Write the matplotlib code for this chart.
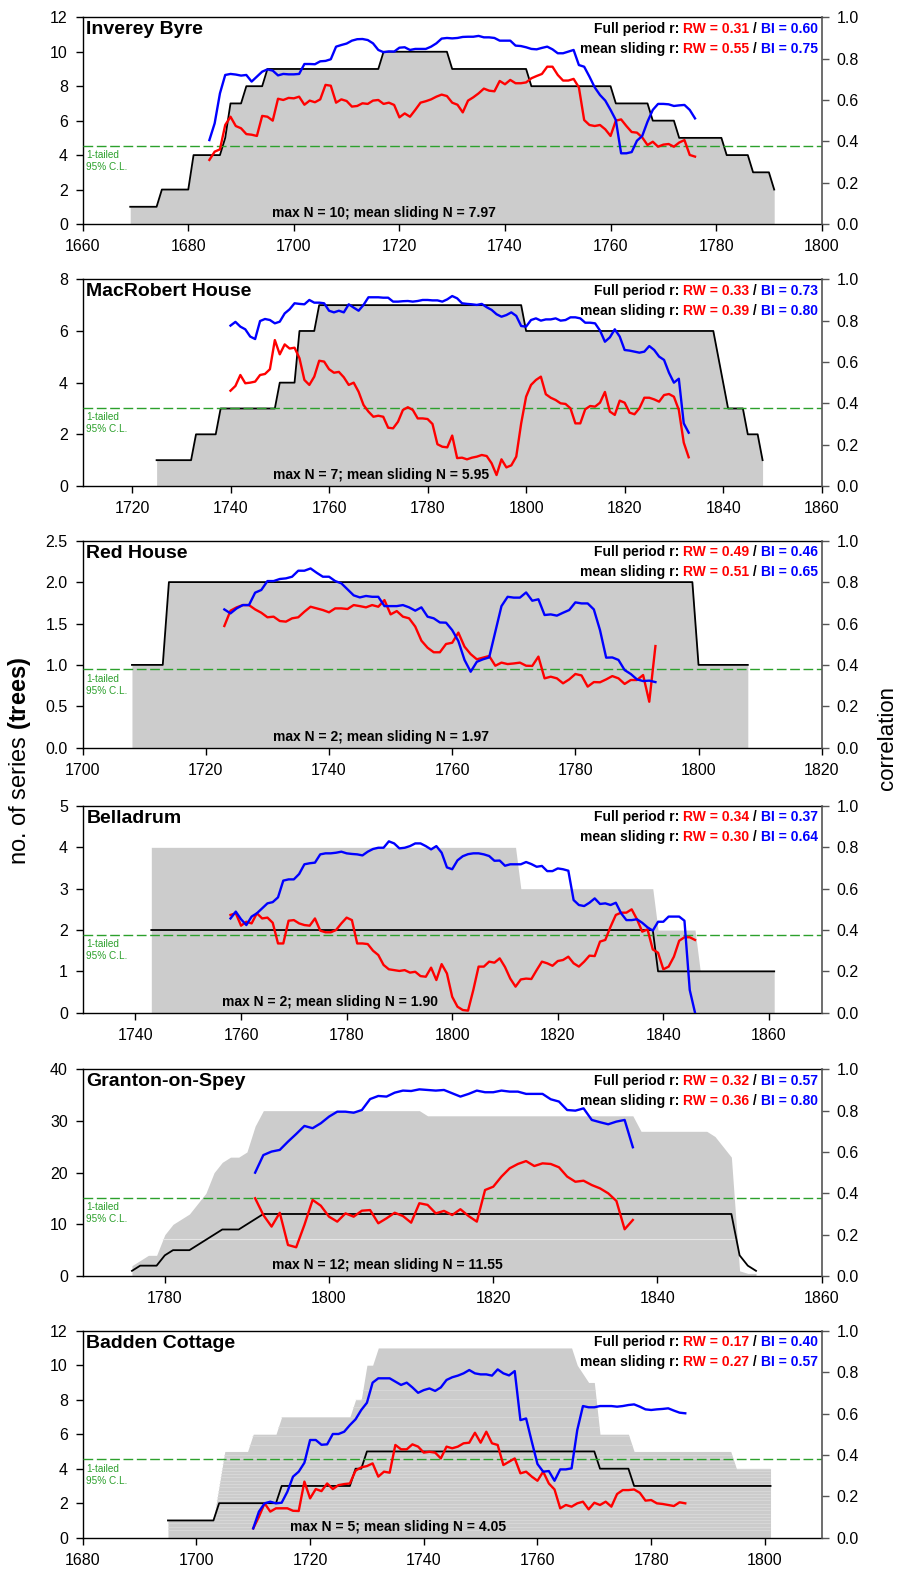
import numpy as np
import matplotlib
matplotlib.use('Agg')
import matplotlib.pyplot as plt

plt.rcParams['font.family'] = ['Liberation Sans', 'DejaVu Sans']
plt.rcParams['mathtext.fontset'] = 'custom'
plt.rcParams['mathtext.rm'] = 'Liberation Sans'
plt.rcParams['mathtext.bf'] = 'Liberation Sans:bold'

# ---------------- DATA ----------------
site_names = ["Inverey Byre", "MacRobert House", "Red House", "Belladrum",
              "Granton-on-Spey", "Badden Cottage"]

# number of trees (black line) - vertices (year, N)
inv_n_years = [1669, 1674, 1675, 1680, 1681, 1686, 1687, 1688, 1690, 1691, 1694, 1695, 1716, 1717, 1729,
               1730, 1744, 1745, 1760, 1761, 1767, 1768, 1772, 1773, 1781, 1782, 1786, 1787, 1790, 1791]
inv_n = [1, 1, 2, 2, 4, 4, 5, 7, 7, 8, 8, 9, 9, 10, 10, 9, 9, 8, 8, 7, 7, 6, 6, 5, 5, 4, 4, 3, 3, 2]

mac_n_years = [1725, 1732, 1733, 1737, 1738, 1749, 1750, 1753, 1754, 1757, 1758, 1799, 1800, 1838,
               1841, 1844, 1845, 1847, 1848]
mac_n = [1, 1, 2, 2, 3, 3, 4, 4, 6, 6, 7, 7, 6, 6, 3, 3, 2, 2, 1]

red_n_years = [1708, 1713, 1714, 1799, 1800, 1808]
red_n = [1, 1, 2, 2, 1, 1]

bel_n_years = [1743, 1838, 1839, 1861]
bel_n = [2, 2, 1, 1]
bel_g_years = [1743, 1812, 1813, 1838, 1839, 1846, 1847, 1861]
bel_g = [4, 4, 3, 3, 2, 2, 1, 1]

gra_n_years = [1776, 1777, 1779, 1780, 1781, 1783, 1784, 1785, 1786, 1787, 1789, 1790, 1791, 1792,
               1849, 1850, 1851, 1852]
gra_n = [1, 2, 2, 4, 5, 5, 6, 7, 8, 9, 9, 10, 11, 12, 12, 4, 2, 1]
gra_g_years = [1776, 1777, 1778, 1779, 1780, 1781, 1782, 1783, 1784, 1785, 1786, 1787, 1788, 1789,
               1790, 1791, 1792, 1811, 1812, 1837, 1838, 1846, 1847, 1848, 1849, 1850, 1851, 1852]
gra_g = [2, 3, 4, 4, 8, 10, 11, 12, 14, 16, 20, 22, 23, 23, 24, 29, 32, 32, 31, 31, 28, 28, 27, 25,
         23, 1, 0.5, 0.5]

bad_n_years = [1695, 1703, 1704, 1714, 1715, 1727, 1728, 1729, 1730, 1770, 1771, 1776, 1777, 1801]
bad_n = [1, 1, 2, 2, 3, 3, 4, 4, 5, 5, 4, 4, 3, 3]
bad_g_years = [1695, 1703, 1704, 1705, 1709, 1710, 1714, 1715, 1727, 1728, 1729, 1730, 1731, 1732,
               1766, 1767, 1768, 1769, 1770, 1771, 1776, 1777, 1794, 1795, 1801]
bad_g = [1, 1, 3, 5, 5, 6, 6, 7, 7, 8, 8, 10, 10, 11, 11, 10, 9.5, 9, 9, 6, 6, 5, 5, 4, 4]

# sliding correlations (RW red, BI blue), yearly from start year
inv_start = 1684
inv_rw = [0.310, 0.350, 0.361, 0.479, 0.519, 0.474, 0.463, 0.435, 0.432, 0.426,
          0.523, 0.519, 0.500, 0.606, 0.600, 0.610, 0.608, 0.616, 0.577, 0.597,
          0.589, 0.603, 0.673, 0.669, 0.587, 0.603, 0.595, 0.568, 0.571, 0.584,
          0.581, 0.597, 0.600, 0.581, 0.587, 0.576, 0.516, 0.535, 0.519, 0.552,
          0.587, 0.594, 0.603, 0.616, 0.626, 0.619, 0.587, 0.577, 0.540, 0.597,
          0.613, 0.632, 0.655, 0.645, 0.642, 0.692, 0.676, 0.697, 0.681, 0.681,
          0.685, 0.705, 0.716, 0.726, 0.761, 0.761, 0.721, 0.694, 0.694, 0.702,
          0.661, 0.503, 0.479, 0.474, 0.479, 0.458, 0.426, 0.500, 0.506, 0.474,
          0.445, 0.442, 0.419, 0.382, 0.398, 0.374, 0.384, 0.387, 0.374, 0.394,
          0.406, 0.334, 0.326]
inv_bi = [0.406, 0.487, 0.632, 0.721, 0.726, 0.723, 0.718, 0.721, 0.689, 0.713,
          0.737, 0.748, 0.742, 0.719, 0.726, 0.724, 0.724, 0.726, 0.774, 0.774,
          0.773, 0.787, 0.789, 0.797, 0.858, 0.866, 0.873, 0.887, 0.894, 0.895,
          0.890, 0.874, 0.842, 0.831, 0.835, 0.834, 0.853, 0.855, 0.842, 0.847,
          0.847, 0.847, 0.858, 0.874, 0.897, 0.900, 0.898, 0.900, 0.905, 0.906,
          0.906, 0.910, 0.903, 0.903, 0.900, 0.887, 0.887, 0.887, 0.863, 0.861,
          0.855, 0.847, 0.845, 0.852, 0.858, 0.845, 0.826, 0.826, 0.834, 0.842,
          0.769, 0.761, 0.713, 0.661, 0.624, 0.597, 0.552, 0.503, 0.342, 0.342,
          0.348, 0.403, 0.426, 0.495, 0.552, 0.581, 0.581, 0.579, 0.571, 0.574,
          0.576, 0.552, 0.511]

mac_start = 1740
mac_rw = [0.461, 0.484, 0.537, 0.497, 0.500, 0.505, 0.537, 0.542, 0.565, 0.706,
          0.637, 0.685, 0.665, 0.669, 0.618, 0.513, 0.489, 0.529, 0.606, 0.602,
          0.565, 0.548, 0.552, 0.526, 0.489, 0.500, 0.456, 0.392, 0.360, 0.335,
          0.340, 0.335, 0.282, 0.279, 0.311, 0.368, 0.381, 0.368, 0.327, 0.327,
          0.324, 0.300, 0.202, 0.190, 0.187, 0.244, 0.135, 0.137, 0.129, 0.137,
          0.142, 0.150, 0.145, 0.110, 0.053, 0.129, 0.090, 0.100, 0.142, 0.303,
          0.432, 0.489, 0.513, 0.529, 0.444, 0.427, 0.416, 0.400, 0.397, 0.376,
          0.303, 0.303, 0.371, 0.387, 0.384, 0.403, 0.455, 0.360, 0.344, 0.413,
          0.403, 0.355, 0.347, 0.376, 0.427, 0.427, 0.419, 0.408, 0.440, 0.445,
          0.432, 0.368, 0.210, 0.139]
mac_bi = [0.776, 0.794, 0.771, 0.758, 0.723, 0.711, 0.798, 0.808, 0.803, 0.787,
          0.795, 0.835, 0.855, 0.884, 0.881, 0.879, 0.900, 0.887, 0.887, 0.884,
          0.848, 0.840, 0.848, 0.840, 0.879, 0.863, 0.848, 0.876, 0.913, 0.913,
          0.913, 0.911, 0.911, 0.892, 0.892, 0.894, 0.895, 0.892, 0.895, 0.900,
          0.900, 0.898, 0.898, 0.892, 0.903, 0.919, 0.908, 0.884, 0.881, 0.879,
          0.876, 0.881, 0.865, 0.852, 0.831, 0.819, 0.827, 0.840, 0.823, 0.774,
          0.771, 0.803, 0.811, 0.800, 0.806, 0.806, 0.811, 0.800, 0.803, 0.816,
          0.816, 0.811, 0.790, 0.790, 0.787, 0.752, 0.698, 0.719, 0.758, 0.723,
          0.658, 0.655, 0.650, 0.645, 0.650, 0.677, 0.658, 0.626, 0.610, 0.548,
          0.500, 0.519, 0.303, 0.258]

red_start = 1723
red_rw = [0.588, 0.662, 0.678, 0.689, 0.689, 0.668, 0.652, 0.630, 0.633, 0.612,
          0.609, 0.625, 0.630, 0.657, 0.681, 0.673, 0.665, 0.654, 0.673, 0.673,
          0.670, 0.689, 0.684, 0.678, 0.689, 0.681, 0.713, 0.644, 0.660, 0.633,
          0.625, 0.585, 0.517, 0.483, 0.461, 0.461, 0.501, 0.507, 0.556, 0.488,
          0.452, 0.427, 0.435, 0.443, 0.396, 0.411, 0.404, 0.407, 0.411, 0.396,
          0.395, 0.440, 0.335, 0.343, 0.335, 0.311, 0.330, 0.356, 0.349, 0.295,
          0.317, 0.316, 0.330, 0.346, 0.335, 0.308, 0.327, 0.327, 0.351, 0.222,
          0.491]
red_bi = [0.668, 0.649, 0.673, 0.689, 0.689, 0.749, 0.762, 0.805, 0.805, 0.815,
          0.818, 0.826, 0.855, 0.855, 0.866, 0.845, 0.826, 0.826, 0.805, 0.794,
          0.765, 0.736, 0.726, 0.733, 0.729, 0.729, 0.684, 0.684, 0.684, 0.689,
          0.678, 0.662, 0.678, 0.633, 0.625, 0.605, 0.604, 0.568, 0.515, 0.424,
          0.367, 0.415, 0.427, 0.436, 0.560, 0.684, 0.729, 0.725, 0.725, 0.750,
          0.710, 0.717, 0.641, 0.644, 0.638, 0.652, 0.665, 0.702, 0.697, 0.697,
          0.668, 0.568, 0.435, 0.436, 0.424, 0.375, 0.356, 0.330, 0.322, 0.324,
          0.317]

bel_start = 1758
bel_rw = [0.473, 0.481, 0.421, 0.440, 0.432, 0.481, 0.456, 0.460, 0.435, 0.335,
          0.335, 0.445, 0.448, 0.432, 0.424, 0.421, 0.456, 0.397, 0.389, 0.389,
          0.400, 0.432, 0.460, 0.448, 0.335, 0.335, 0.332, 0.300, 0.279, 0.231,
          0.210, 0.206, 0.202, 0.206, 0.194, 0.198, 0.177, 0.174, 0.218, 0.158,
          0.235, 0.190, 0.077, 0.029, 0.013, 0.010, 0.110, 0.223, 0.223, 0.247,
          0.242, 0.263, 0.221, 0.165, 0.126, 0.161, 0.165, 0.163, 0.206, 0.247,
          0.239, 0.227, 0.250, 0.255, 0.271, 0.239, 0.223, 0.247, 0.276, 0.274,
          0.344, 0.352, 0.416, 0.473, 0.484, 0.484, 0.500, 0.452, 0.392, 0.403,
          0.306, 0.290, 0.210, 0.223, 0.271, 0.348, 0.365, 0.365, 0.352]
bel_bi = [0.456, 0.489, 0.452, 0.424, 0.465, 0.481, 0.505, 0.529, 0.535, 0.558,
          0.639, 0.645, 0.645, 0.671, 0.718, 0.723, 0.726, 0.766, 0.771, 0.771,
          0.774, 0.779, 0.771, 0.768, 0.766, 0.761, 0.779, 0.792, 0.798, 0.798,
          0.829, 0.819, 0.795, 0.798, 0.806, 0.819, 0.819, 0.806, 0.790, 0.806,
          0.774, 0.703, 0.694, 0.737, 0.757, 0.767, 0.771, 0.771, 0.766, 0.758,
          0.735, 0.736, 0.711, 0.718, 0.718, 0.718, 0.729, 0.719, 0.706, 0.710,
          0.685, 0.685, 0.698, 0.694, 0.687, 0.545, 0.521, 0.516, 0.532, 0.553,
          0.526, 0.529, 0.521, 0.532, 0.481, 0.448, 0.448, 0.452, 0.435, 0.413,
          0.397, 0.440, 0.440, 0.465, 0.465, 0.465, 0.445, 0.110, 0.000]

gra_start = 1791
gra_rw = [0.376, 0.295, 0.239, 0.306, 0.150, 0.139, 0.247, 0.368, 0.340, 0.287,
          0.263, 0.303, 0.287, 0.316, 0.319, 0.255, 0.279, 0.306, 0.290, 0.258,
          0.352, 0.344, 0.303, 0.315, 0.295, 0.323, 0.290, 0.263, 0.416, 0.432,
          0.481, 0.521, 0.542, 0.556, 0.532, 0.545, 0.542, 0.526, 0.481, 0.456,
          0.461, 0.440, 0.424, 0.400, 0.363, 0.226, 0.271]
gra_bi = [0.500, 0.585, 0.602, 0.610, 0.650, 0.687, 0.726, 0.715, 0.739, 0.771,
          0.795, 0.795, 0.790, 0.803, 0.856, 0.871, 0.868, 0.887, 0.897, 0.895,
          0.903, 0.900, 0.897, 0.900, 0.884, 0.868, 0.881, 0.897, 0.889, 0.889,
          0.897, 0.892, 0.892, 0.881, 0.881, 0.881, 0.855, 0.844, 0.803, 0.800,
          0.811, 0.755, 0.744, 0.734, 0.747, 0.755, 0.623]

bad_start = 1710
bad_rw = [0.045, 0.101, 0.166, 0.126, 0.142, 0.142, 0.142, 0.130, 0.129, 0.271,
          0.190, 0.235, 0.225, 0.262, 0.235, 0.254, 0.259, 0.262, 0.324, 0.340,
          0.346, 0.359, 0.295, 0.319, 0.314, 0.448, 0.427, 0.427, 0.451, 0.440,
          0.411, 0.415, 0.411, 0.383, 0.440, 0.432, 0.440, 0.456, 0.459, 0.507,
          0.459, 0.512, 0.456, 0.448, 0.351, 0.367, 0.383, 0.311, 0.319, 0.295,
          0.275, 0.319, 0.262, 0.233, 0.142, 0.158, 0.150, 0.166, 0.174, 0.137,
          0.169, 0.158, 0.174, 0.150, 0.211, 0.230, 0.230, 0.233, 0.217, 0.179,
          0.182, 0.166, 0.163, 0.158, 0.153, 0.171, 0.166]
bad_bi = [0.045, 0.126, 0.166, 0.174, 0.166, 0.169, 0.222, 0.295, 0.319, 0.362,
          0.472, 0.472, 0.449, 0.451, 0.501, 0.501, 0.512, 0.544, 0.572, 0.617,
          0.652, 0.749, 0.770, 0.770, 0.770, 0.754, 0.738, 0.749, 0.726, 0.700,
          0.713, 0.721, 0.709, 0.726, 0.762, 0.775, 0.783, 0.794, 0.810, 0.794,
          0.789, 0.789, 0.783, 0.813, 0.794, 0.784, 0.805, 0.568, 0.576, 0.464,
          0.356, 0.319, 0.322, 0.275, 0.330, 0.330, 0.335, 0.520, 0.636, 0.630,
          0.630, 0.636, 0.636, 0.636, 0.633, 0.636, 0.641, 0.644, 0.633, 0.620,
          0.617, 0.620, 0.622, 0.625, 0.614, 0.604, 0.601]

full_rw = [0.31, 0.33, 0.49, 0.34, 0.32, 0.17]
full_bi = [0.60, 0.73, 0.46, 0.37, 0.57, 0.40]
slide_rw = [0.55, 0.39, 0.51, 0.30, 0.36, 0.27]
slide_bi = [0.75, 0.80, 0.65, 0.64, 0.80, 0.57]
max_n = [10, 7, 2, 2, 12, 5]
mean_slide_n = ["7.97", "5.95", "1.97", "1.90", "11.55", "4.05"]
crit_r = 0.378

x_limits = [(1660, 1800), (1710, 1860), (1700, 1820), (1730, 1870), (1770, 1860), (1680, 1810)]
x_ticks = [list(range(1660, 1801, 20)), list(range(1720, 1861, 20)), list(range(1700, 1821, 20)),
           list(range(1740, 1861, 20)), list(range(1780, 1861, 20)), list(range(1680, 1801, 20))]
y_limits = [12, 8, 2.5, 5, 40, 12]
y_ticks = [[0, 2, 4, 6, 8, 10, 12], [0, 2, 4, 6, 8], [0.0, 0.5, 1.0, 1.5, 2.0, 2.5],
           [0, 1, 2, 3, 4, 5], [0, 10, 20, 30, 40], [0, 2, 4, 6, 8, 10, 12]]

n_years = [inv_n_years, mac_n_years, red_n_years, bel_n_years, gra_n_years, bad_n_years]
n_vals = [inv_n, mac_n, red_n, bel_n, gra_n, bad_n]
g_years = [inv_n_years, mac_n_years, red_n_years, bel_g_years, gra_g_years, bad_g_years]
g_vals = [inv_n, mac_n, red_n, bel_g, gra_g, bad_g]
starts = [inv_start, mac_start, red_start, bel_start, gra_start, bad_start]
rws = [inv_rw, mac_rw, red_rw, bel_rw, gra_rw, bad_rw]
bis = [inv_bi, mac_bi, red_bi, bel_bi, gra_bi, bad_bi]

# ---------------- LAYOUT ----------------
W, H = 899, 1571
left_px, right_px = 82.7, 821.7
tops = [17.3, 279.3, 540.7, 806.0, 1069.3, 1330.7]
bots = [224.0, 486.0, 747.7, 1012.7, 1276.0, 1537.7]
maxn_x = [0.256, 0.257, 0.257, 0.1885, 0.256, 0.2805]

GREY = '#cccccc'
GREEN = '#2ca02c'
RCOL = '#ff0000'
BCOL = '#0000ff'
SPG = '#555555'

fig = plt.figure(figsize=(W / 100, H / 100), dpi=100)


def colored_line(ax, x, y, pieces, size):
    t = None
    for text, color in reversed(pieces):
        if t is None:
            t = ax.text(x, y, text, transform=ax.transAxes, ha='right', va='center',
                        color=color, fontsize=size, fontweight='bold', zorder=10)
        else:
            t = ax.annotate(text, xy=(0, 0.5), xycoords=t, ha='right', va='center',
                            color=color, fontsize=size, fontweight='bold', zorder=10)


for i in range(6):
    rect = [left_px / W, 1 - bots[i] / H, (right_px - left_px) / W, (bots[i] - tops[i]) / H]
    ax = fig.add_axes(rect)
    ax.set_xlim(*x_limits[i])
    ax.set_ylim(0, y_limits[i])
    ax.set_xticks(x_ticks[i])
    ax.set_yticks(y_ticks[i])
    if i == 2:
        ax.set_yticklabels(['%.1f' % v for v in y_ticks[i]])
    poly = ax.fill_between(g_years[i], 0, g_vals[i], color=GREY, lw=0, zorder=1)
    # faint band boundaries inside the grey (stacked series)
    if i == 4:
        ln = ax.axhline(7.1, color='#e6e6e6', lw=0.8, zorder=1.5)
        ln.set_clip_path(poly.get_paths()[0], poly.get_transform())
    if i == 5:
        levels = list(np.arange(0.45, 5.0, 0.19)) + [5.4, 5.9, 6.4, 6.98, 7.55, 8.02, 8.56]
        for lv in levels:
            ln = ax.axhline(lv, color='#dcdcdc', lw=0.5, zorder=1.5)
            ln.set_clip_path(poly.get_paths()[0], poly.get_transform())
    ax.plot(n_years[i], n_vals[i], color='k', lw=1.3, zorder=3)
    ax.spines['right'].set_visible(False)
    ax.tick_params(axis='both', direction='out', length=4.7, width=1, labelsize=11.5, pad=6)
    ax.tick_params(axis='x', top=False)
    for s in ['left', 'top', 'bottom']:
        ax.spines[s].set_linewidth(1.0)

    ax2 = ax.twinx()
    ax2.set_ylim(0, 1)
    ax2.set_yticks([0.0, 0.2, 0.4, 0.6, 0.8, 1.0])
    ax2.set_yticklabels(['0.0', '0.2', '0.4', '0.6', '0.8', '1.0'])
    ax2.tick_params(axis='y', direction='out', length=4.7, width=1, labelsize=11.5,
                    color=SPG, labelcolor='k', pad=6)
    for s in ['left', 'top', 'bottom']:
        ax2.spines[s].set_visible(False)
    ax2.spines['right'].set_color(SPG)
    ax2.spines['right'].set_linewidth(1.2)

    ax2.axhline(crit_r, color=GREEN, lw=1.0, dashes=(7, 2.6), zorder=2)
    ax2.annotate('1-tailed\n95% C.L.', xy=(0.005, crit_r), xycoords=('axes fraction', 'data'),
                 xytext=(0, -3), textcoords='offset points', ha='left', va='top',
                 fontsize=7.2, color=GREEN, linespacing=1.25)

    yrs = np.arange(starts[i], starts[i] + len(rws[i]))
    ax2.plot(yrs, rws[i], color=RCOL, lw=1.7, zorder=4)
    yrs_b = np.arange(starts[i], starts[i] + len(bis[i]))
    ax2.plot(yrs_b, bis[i], color=BCOL, lw=1.7, zorder=5)

    ax2.text(0.005, 0.98, site_names[i], transform=ax2.transAxes, ha='left', va='top',
             fontsize=14, fontweight='bold', zorder=10)
    colored_line(ax2, 0.995, 0.945,
                 [('Full period r: ', 'k'), ('RW = %.2f' % full_rw[i], RCOL), (' / ', 'k'),
                  ('BI = %.2f' % full_bi[i], BCOL)], 10)
    colored_line(ax2, 0.995, 0.848,
                 [('mean sliding r: ', 'k'), ('RW = %.2f' % slide_rw[i], RCOL), (' / ', 'k'),
                  ('BI = %.2f' % slide_bi[i], BCOL)], 10)
    ax2.text(maxn_x[i], 0.052, 'max N = %d; mean sliding N = %s' % (max_n[i], mean_slide_n[i]),
             transform=ax2.transAxes, ha='left', va='center', fontsize=10, fontweight='bold',
             zorder=10)

fig.text(20 / W, 1 - 761 / H, r'no. of series $\mathbf{(trees)}$', rotation=90,
         ha='center', va='center', fontsize=17)
fig.text(887 / W, 1 - 738 / H, 'correlation', rotation=90, ha='center', va='center', fontsize=16)

fig.savefig('out.png', dpi=100)
